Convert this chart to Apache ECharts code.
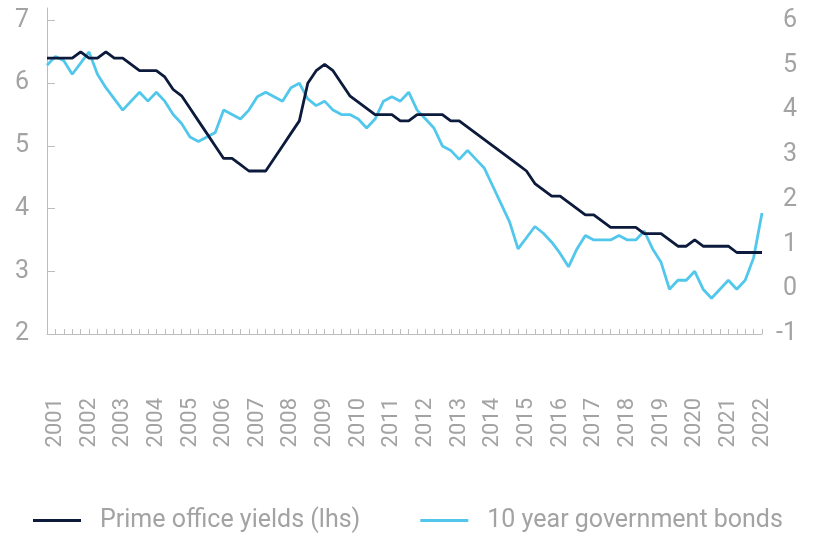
<!DOCTYPE html>
<html>
<head>
<meta charset="utf-8">
<script src="https://cdn.jsdelivr.net/npm/echarts@6/dist/echarts.min.js"></script>
<style>
  html, body { margin: 0; padding: 0; background: #fff; }
  #chart { width: 814px; height: 539px; }
</style>
</head>
<body>
<div id="chart"></div>
<script>
// quarterly, 2000 Q4 .. 2022 Q1
var firstYear = 2000, firstQuarter = 4, nPoints = 86;
var quarters = [];
for (var k = 0; k < nPoints; k++) {
  var q = firstQuarter - 1 + k;
  quarters.push((firstYear + Math.floor(q / 4)) + ' Q' + (q % 4 + 1));
}

var primeYields = [
  6.4, 6.4, 6.4, 6.4, 6.5, 6.4, 6.4, 6.5, 6.4, 6.4,
  6.3, 6.2, 6.2, 6.2, 6.1, 5.9, 5.8, 5.6, 5.4, 5.2,
  5.0, 4.8, 4.8, 4.7, 4.6, 4.6, 4.6, 4.8, 5.0, 5.2,
  5.4, 6.0, 6.2, 6.3, 6.2, 6.0, 5.8, 5.7, 5.6, 5.5,
  5.5, 5.5, 5.4, 5.4, 5.5, 5.5, 5.5, 5.5, 5.4, 5.4,
  5.3, 5.2, 5.1, 5.0, 4.9, 4.8, 4.7, 4.6, 4.4, 4.3,
  4.2, 4.2, 4.1, 4.0, 3.9, 3.9, 3.8, 3.7, 3.7, 3.7,
  3.7, 3.6, 3.6, 3.6, 3.5, 3.4, 3.4, 3.5, 3.4, 3.4,
  3.4, 3.4, 3.3, 3.3, 3.3, 3.3
];

var govBonds = [
  5.0, 5.2, 5.1, 4.8, 5.05, 5.3, 4.8, 4.5, 4.25, 4.0,
  4.2, 4.4, 4.2, 4.4, 4.2, 3.9, 3.7, 3.4, 3.3, 3.4,
  3.5, 4.0, 3.9, 3.8, 4.0, 4.3, 4.4, 4.3, 4.2, 4.5,
  4.6, 4.25, 4.1, 4.2, 4.0, 3.9, 3.9, 3.8, 3.6, 3.8,
  4.2, 4.3, 4.2, 4.4, 4.0, 3.8, 3.6, 3.2, 3.1, 2.9,
  3.1, 2.9, 2.7, 2.3, 1.9, 1.5, 0.9, 1.15, 1.4, 1.25,
  1.05, 0.8, 0.5, 0.9, 1.2, 1.1, 1.1, 1.1, 1.2, 1.1,
  1.1, 1.3, 0.9, 0.6, 0.0, 0.2, 0.2, 0.4, 0.0, -0.2,
  0.0, 0.2, 0.0, 0.2, 0.7, 1.7
];

var leftTicks = [2, 3, 4, 5, 6, 7];
var rightTicks = [-1, 0, 1, 2, 3, 4, 5, 6];

var grey = '#a3a3a3';
var axisGrey = '#bdbdbd';
var font = 'Roboto';

var myChart = echarts.init(document.getElementById('chart'));
var option = {
  animation: false,
  grid: { left: 47, right: 52, top: 8, bottom: 205 },
  legend: {
    left: 33,
    top: 508,
    padding: 0,
    icon: 'rect',
    itemWidth: 48,
    itemHeight: 3,
    itemGap: 60,
    textStyle: { color: grey, fontFamily: font, fontSize: 25, padding: [0, 0, 0, 14] },
    data: ['Prime office yields (lhs)', '10 year government bonds']
  },
  xAxis: {
    type: 'category',
    data: quarters,
    boundaryGap: false,
    axisLine: { onZero: false, lineStyle: { color: axisGrey, width: 1 } },
    axisTick: { inside: true, length: 5, interval: 0, lineStyle: { color: axisGrey } },
    axisLabel: {
      rotate: 90,
      margin: 64,
      color: grey,
      fontFamily: font,
      fontSize: 22,
      interval: function (i) { return i % 4 === 1; },
      formatter: function (v) { return v.slice(0, 4); }
    },
    splitLine: { show: false }
  },
  yAxis: [{
    type: 'value',
    min: 2,
    max: 7.2,
    axisLine: { show: true, lineStyle: { color: axisGrey, width: 1 } },
    axisTick: { show: true, inside: true, length: 8, customValues: leftTicks, lineStyle: { color: axisGrey } },
    axisLabel: { color: grey, fontFamily: font, fontSize: 25, margin: 18, customValues: leftTicks },
    splitLine: { show: false }
  }, {
    type: 'value',
    min: -1,
    max: 6.28,
    position: 'right',
    axisLine: { show: false },
    axisTick: { show: false },
    axisLabel: { color: grey, fontFamily: font, fontSize: 25, margin: 35, align: 'right', customValues: rightTicks },
    splitLine: { show: false }
  }],
  series: [{
    name: 'Prime office yields (lhs)',
    type: 'line',
    yAxisIndex: 0,
    data: primeYields,
    symbol: 'none',
    lineStyle: { color: '#0c1a3c', width: 2.8 },
    itemStyle: { color: '#0c1a3c' },
    z: 3
  }, {
    name: '10 year government bonds',
    type: 'line',
    yAxisIndex: 1,
    data: govBonds,
    symbol: 'none',
    lineStyle: { color: '#52c7ec', width: 2.8 },
    itemStyle: { color: '#52c7ec' },
    z: 2
  }]
};
myChart.setOption(option);
</script>
</body>
</html>
